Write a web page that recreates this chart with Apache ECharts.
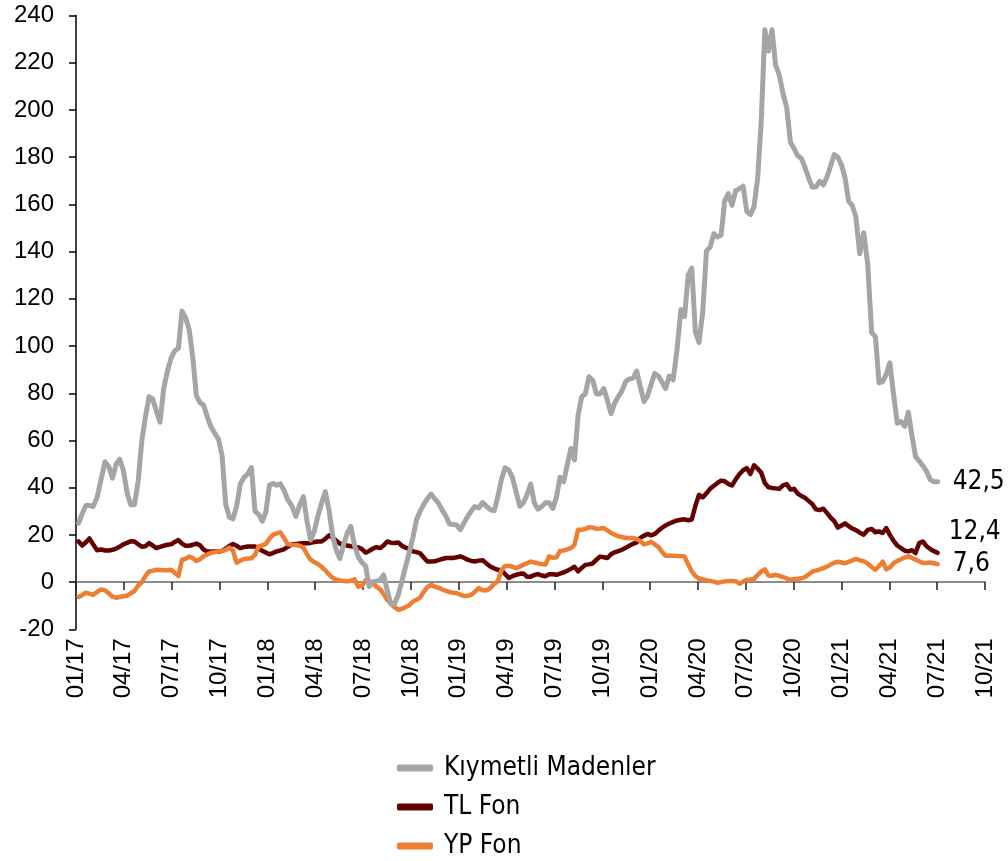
<!DOCTYPE html>
<html>
<head>
<meta charset="utf-8">
<title>Kıymetli Madenler / TL Fon / YP Fon</title>
<script src="https://cdn.jsdelivr.net/npm/echarts@6/dist/echarts.min.js"></script>
<style>
  html, body { margin: 0; padding: 0; background: #fff; }
  #chart { width: 1008px; height: 861px; }
</style>
</head>
<body>
<div id="chart"></div>
<script>
// weekly observations, first one on 06.01.2017
const firstWeek = Date.UTC(2017, 0, 6);

const quarterLabels = ['01/17', '04/17', '07/17', '10/17', '01/18', '04/18', '07/18', '10/18',
  '01/19', '04/19', '07/19', '10/19', '01/20', '04/20', '07/20', '10/20',
  '01/21', '04/21', '07/21', '10/21'];

const seriesNames = ['Kıymetli Madenler', 'TL Fon', 'YP Fon'];

const kiymetli = [
  25, 29, 32.5, 32.5, 32, 35.8, 43.5, 51, 48.8, 44, 50, 52, 47.4, 38, 32.8, 32.8, 42.9, 60, 70, 78.5,
  77.6, 72.6, 67.7, 82, 89.3, 95, 98, 99, 114.8, 112, 107, 95.2, 79, 76, 75, 70, 65.8, 63, 60.5, 53.6,
  33, 27.5, 26.8, 31.9, 41.5, 44.3, 45.8, 48.5, 30, 28.7, 25.8, 29.6, 41, 41.8, 41, 41.7, 39, 34.8, 32.3, 27.8,
  32.7, 36.2, 25.9, 17.8, 21.4, 28, 33.5, 38.3, 30.4, 19.4, 13.5, 10, 15.8, 20.6, 23.6, 15.5, 10.6, 8.3, 6.8, -1.9,
  0.2, 0.4, 0.8, 3, -3.5, -9.2, -9.3, -5.6, 0.4, 6.5, 12.7, 19, 26.5, 30, 32.9, 35.3, 37.3, 35.3, 33.4, 30.5,
  28, 24.6, 24.4, 24.2, 22.2, 25, 27.7, 30, 32, 31.4, 33.7, 32.1, 30.6, 30.3, 36.2, 43.5, 48.4, 47.5, 44.4, 38.1,
  32.1, 33.7, 37.2, 41.5, 33.5, 30.9, 32, 33.6, 33.6, 31.2, 36, 44.4, 42.5, 49.7, 56.6, 51.7, 70.7, 78.5, 79.7, 87,
  85.5, 79.8, 79.7, 82, 77, 71.4, 75.8, 78.5, 81, 85, 86.1, 86.4, 89.4, 82.7, 76.5, 78.8, 83.8, 88.4, 87.3, 84.8,
  82, 87.3, 85.7, 98.6, 115.5, 112.5, 130, 133, 106, 101.5, 114.5, 140.3, 142, 147.6, 146.2, 147, 161.5, 164.6, 159.6, 165.8,
  166.7, 167.7, 157, 155.7, 159, 171, 195, 234, 225, 234, 219, 214.8, 207, 201, 186.3, 183.6, 180.6, 179.5, 175.7, 171.3,
  167.4, 167.5, 169.8, 168.3, 171.7, 176.4, 181.1, 180, 176.8, 171.2, 161.3, 159.6, 154.7, 139.1, 148, 134.8, 105.7, 104, 84.4, 84.9,
  88, 92.9, 79.5, 67.3, 68, 66, 72, 62, 53.2, 51.4, 49.3, 46.9, 43.4, 42.5, 42.5
];

const tlFon = [
  17.2, 15.5, 16.8, 18.5, 16, 13.5, 13.8, 13.4, 13.4, 13.7, 14.2, 15, 16, 16.6, 17.3, 17.2, 16, 15, 15.2, 16.5,
  15.5, 14.4, 14.9, 15.4, 15.8, 16, 17, 17.8, 16.3, 15.4, 15.4, 15.8, 16.3, 15.6, 13.8, 13, 13, 13, 13, 13.2,
  14.2, 15.3, 16.1, 15.4, 14.4, 14.8, 15.1, 15.1, 15.1, 14.2, 13.3, 12.5, 11.8, 12.3, 13, 13.4, 13.9, 15, 15.9, 16.1,
  16.4, 16.5, 16.5, 16.6, 17, 17.2, 17.2, 18.3, 19.8, 18.8, 17.5, 16.3, 15.7, 15.5, 15.2, 15, 14.7, 14, 12.5, 13.2,
  14.2, 14.8, 14.4, 15.5, 17.2, 16.7, 16.6, 16.8, 15.4, 14.6, 14, 13, 12.7, 12.2, 10.4, 8.7, 8.7, 8.8, 9.3, 9.8,
  10.2, 10.2, 10.2, 10.5, 10.9, 10.3, 9.5, 9, 8.7, 9.1, 9.3, 7.8, 6.5, 5.8, 5.2, 5, 3.4, 1.8, 2.5, 3.1,
  3.5, 3.6, 2.3, 2.3, 3, 3.4, 2.8, 2.5, 3.3, 3.3, 3.1, 3.6, 4.1, 4.8, 5.6, 6.5, 4.5, 6, 7.3, 7.5,
  7.9, 9.5, 10.8, 10.5, 10.2, 11.8, 12.6, 13.1, 13.7, 14.5, 15.4, 16.2, 16.8, 18.7, 19.7, 20.4, 19.8, 20.4, 21.7, 23,
  24, 24.8, 25.5, 26.1, 26.4, 26.6, 26.2, 26.5, 32.3, 37, 35.9, 37.6, 39.6, 40.8, 42, 43, 42.7, 41.6, 40.9, 43.5,
  45.7, 47.4, 48.3, 45.8, 49.5, 48.1, 46.3, 42, 40.2, 39.9, 39.7, 39.5, 41, 41.5, 39.2, 39.5, 37.5, 36.5, 35.7, 34.4,
  33.1, 30.8, 30.5, 31.1, 29.2, 27.3, 25.8, 23.1, 24, 24.9, 23.7, 22.7, 22, 21, 20.1, 22.1, 22.5, 21.1, 21.5, 20.8,
  22.9, 20, 17.5, 15.5, 14.4, 13.3, 13, 13.5, 12.3, 16.5, 17.2, 15.2, 14, 13.1, 12.4
];

const ypFon = [
  -6.3, -5.5, -4.5, -4.9, -5.4, -4.2, -3.1, -3.5, -4.8, -6.2, -6.6, -6.3, -6, -5.8, -4.7, -3.8, -1.5, 0, 2.5, 4.5,
  4.8, 5.2, 5.1, 5, 5, 5.2, 3.9, 2.6, 9.5, 9.9, 10.8, 10.2, 8.9, 9.7, 10.9, 11.7, 12.4, 12.7, 13, 13.3,
  13.6, 14.6, 13.5, 8.2, 9, 9.8, 10, 10.1, 11.5, 15.1, 15.5, 16.2, 18.4, 20, 20.6, 21.1, 18.8, 16, 15.8, 15.7,
  15.4, 14.6, 11.8, 9.5, 8.5, 7.7, 6.5, 5, 3.2, 1.8, 1.1, 0.7, 0.5, 0.3, 0.6, 1.2, -2, -1.5, 0.8, 0.3,
  -0.5, -1.9, -3, -5, -7.5, -9, -10.6, -11.7, -11.3, -10.6, -9.8, -8.2, -7.5, -6.6, -4.1, -2.1, -1.2, -1.9, -2.4, -3.1,
  -3.7, -4.2, -4.5, -4.7, -5.3, -5.9, -5.8, -5.5, -4.2, -2.5, -3.5, -3.5, -2.4, -0.7, 0.3, 5, 6.8, 6.9, 6.5, 5.9,
  6.6, 7.4, 8, 8.7, 8.3, 7.9, 7.7, 7.4, 10.9, 10.3, 10.5, 13.2, 13.4, 13.9, 14.4, 15.8, 22.2, 22.2, 22.5, 23.2,
  23, 22.6, 22.7, 22.9, 21.9, 20.8, 20.1, 19.4, 19.1, 18.7, 18.7, 18.7, 18.2, 17.4, 16, 16.4, 17.1, 16, 14.9, 12.9,
  11.2, 11.2, 11.2, 11.1, 11, 10.8, 7.5, 4.6, 2.5, 1.5, 1.1, 0.8, 0.5, 0.2, -0.3, 0, 0.3, 0.5, 0.5, 0.4,
  -0.7, 0.2, 1, 1.1, 1.3, 3, 4.4, 5.4, 2.8, 2.7, 3.1, 2.6, 2.1, 1.6, 1, 1.2, 1.4, 1.6, 2.1, 3.2,
  4.4, 4.9, 5.4, 5.9, 6.6, 7.4, 8.2, 8.6, 8.3, 8, 8.6, 9.2, 9.8, 9.3, 8.8, 7.9, 6.4, 5.2, 6.8, 8.7,
  5.4, 6.2, 8, 9, 9.7, 10.4, 10.9, 10.2, 9.5, 8.8, 8.1, 8.1, 8.3, 8, 7.6
];

// week -> months since 01/2017 (the x axis counts months)
function weekToMonths(i) {
  const d = new Date(firstWeek + i * 7 * 86400000);
  const y = d.getUTCFullYear(), mo = d.getUTCMonth();
  const daysInMonth = new Date(Date.UTC(y, mo + 1, 0)).getUTCDate();
  return (y - 2017) * 12 + mo + (d.getUTCDate() - 1) / daysInMonth;
}

function toPoints(values) {
  return values.map((v, i) => [weekToMonths(i), v]);
}

function fmt(v) {
  return v.toFixed(1).replace('.', ',');
}

const labelFont = 'Liberation Sans, Arial, sans-serif';
const textFont = 'DejaVu Sans Condensed, DejaVu Sans, sans-serif';

const colors = {
  'Kıymetli Madenler': '#A5A5A5',
  'TL Fon': '#640000',
  'YP Fon': '#EE7E32'
};

function lineSeries(name, values, offset, width) {
  return {
    name: name,
    type: 'line',
    xAxisIndex: 0,
    data: toPoints(values),
    symbol: 'none',
    color: colors[name],
    lineStyle: {width: width, color: colors[name], cap: 'round', join: 'round'},
    endLabel: {
      show: true,
      formatter: p => fmt(p.value[1]),
      offset: offset,
      fontSize: 26,
      fontFamily: textFont,
      color: '#000'
    }
  };
}

const chart = echarts.init(document.getElementById('chart'));
chart.setOption({
  animation: false,
  backgroundColor: '#fff',
  grid: {left: 76, right: 23, top: 15.6, bottom: 231.7},
  legend: {
    data: seriesNames,
    orient: 'vertical',
    left: 397,
    top: 755,
    padding: 0,
    itemWidth: 36,
    itemHeight: 7,
    itemGap: 13,
    icon: 'roundRect',
    textStyle: {fontSize: 26, fontFamily: textFont, color: '#000', padding: [0, 0, 0, 6]}
  },
  xAxis: [
    {
      type: 'value',
      min: 0,
      max: 57,
      interval: 3,
      axisLine: {onZero: true, lineStyle: {color: '#666', width: 1.5}},
      axisTick: {show: true, length: 8, lineStyle: {color: '#222', width: 1.5}},
      axisLabel: {show: false},
      splitLine: {show: false}
    },
    {
      type: 'value',
      position: 'bottom',
      min: 0,
      max: 57,
      interval: 3,
      axisLine: {show: false, onZero: false},
      axisTick: {show: false},
      splitLine: {show: false},
      axisLabel: {
        rotate: 90,
        margin: 9,
        fontSize: 24,
        fontFamily: labelFont,
        color: '#000',
        formatter: v => quarterLabels[Math.round(v / 3)]
      }
    }
  ],
  yAxis: {
    type: 'value',
    min: -20,
    max: 240,
    interval: 20,
    axisLine: {show: true, lineStyle: {color: '#000', width: 1.5}},
    axisTick: {show: true, length: 7, lineStyle: {color: '#000', width: 1.5}},
    splitLine: {show: false},
    axisLabel: {fontSize: 24, fontFamily: labelFont, color: '#000', margin: 22}
  },
  series: [
    lineSeries('TL Fon', tlFon, [3, -21], 4.5),
    lineSeries('YP Fon', ypFon, [7, 0], 4.5),
    lineSeries('Kıymetli Madenler', kiymetli, [7, 0], 5)
  ]
});
</script>
</body>
</html>
